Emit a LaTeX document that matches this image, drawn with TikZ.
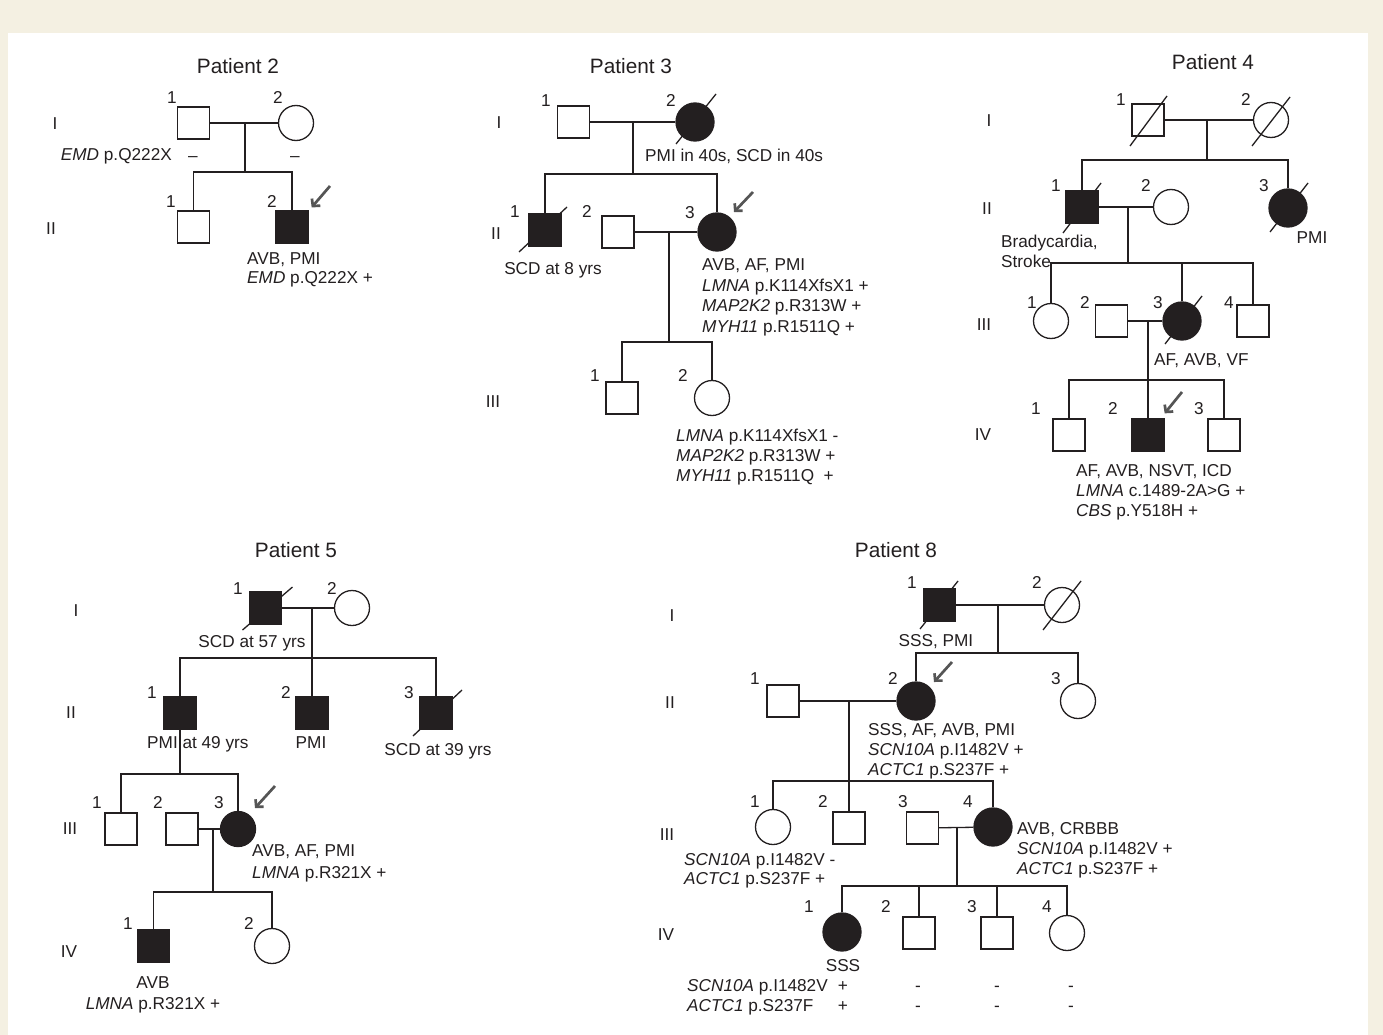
\documentclass[tikz,border=0pt]{standalone}
\usepackage{fontspec}
\setmainfont{Liberation Sans}
\usetikzlibrary{arrows.meta}
\definecolor{cream}{HTML}{F4F0E2}
\definecolor{ink}{HTML}{231F20}
\definecolor{arrgray}{HTML}{555555}
\tikzset{
  ln/.style={line width=1.3pt, draw=ink},
  male/.style={rectangle, draw=ink, line width=1.3pt, minimum size=32pt, inner sep=0pt, fill=white},
  female/.style={circle, draw=ink, line width=1.3pt, minimum size=35pt, inner sep=0pt, fill=white},
  aff/.style={fill=ink},
  bigc/.style={minimum size=38pt},
  slash/.style={line width=1.3pt, draw=ink},
  lbl/.style={inner sep=0pt, text=ink, text height=12.3pt, text depth=0pt, font=\fontsize{17.2}{20}\selectfont},
  lw/.style={lbl, anchor=west},
  ttl/.style={inner sep=0pt, text=ink, text height=15pt, text depth=0pt, font=\fontsize{20.8}{24}\selectfont},
  proband/.style={draw=arrgray, line width=2.7pt, -{Straight Barb[length=5pt,width=11pt]}}
}
\begin{document}
\begin{tikzpicture}[x=1pt,y=-1pt]
\fill[cream] (0,0) rectangle (1383,1035);
\fill[white] (8,33) rectangle (1368,1035);

% ================= Patient 2 =================
\node[ttl] (t2) at (238,66) {Patient 2};
\node[lbl] (g2a) at (55,123) {I};
\node[lbl] (g2b) at (51,228) {II};
\node[male] (p2a) at (193.5,123) {};
\node[female] (p2b) at (296,123) {};
\node[male] (p2c) at (193.5,227) {};
\node[male,aff] (p2d) at (292,227) {};
\node[lbl] (n2a) at (172,97) {1};
\node[lbl] (n2b) at (278,97) {2};
\node[lbl] (n2c) at (171,201) {1};
\node[lbl] (n2d) at (272,201) {2};
\coordinate (p2m) at (245,123);
\coordinate (p2s) at (245,172);
\draw[ln] (p2a) -- (p2b);
\draw[ln] (p2m) -- (p2s);
\draw[ln] (p2c) |- (p2s) -| (p2d);
\node[lbl, anchor=east] (x2a) at (172,154) {\textit{EMD} p.Q222X};
\node[lbl] (x2b) at (193,155) {--};
\node[lbl] (x2c) at (295,155) {--};
\node[lw] (x2d) at (247,258) {AVB, PMI};
\node[lw] (x2e) at (247,277) {\textit{EMD} p.Q222X +};
\coordinate (a2) at (330,186);
\draw[proband] (a2) -- ([shift={(3,-3)}]p2d.north east);

% ================= Patient 3 =================
\node[ttl] (t3) at (631,66) {Patient 3};
\node[lbl] (g3a) at (499,122) {I};
\node[lbl] (g3b) at (496,233) {II};
\node[lbl] (g3c) at (493,401) {III};
\node[male] (p3a) at (573.5,122) {};
\node[female,aff,bigc] (p3b) at (695,122) {};
\draw[slash] ([shift={(-19,22)}]p3b.center) -- ([shift={(21,-28)}]p3b.center);
\node[lbl] (n3a) at (546,100) {1};
\node[lbl] (n3b) at (671,100) {2};
\coordinate (p3m) at (633,122);
\coordinate (p3s) at (633,174);
\draw[ln] (p3a) -- (p3b);
\draw[ln] (p3m) -- (p3s);
\node[lw] (x3a) at (645,155) {PMI in 40s, SCD in 40s};
\node[male,aff] (p3c) at (545,230) {};
\draw[slash] ([shift={(-26,22)}]p3c.center) -- ([shift={(22,-23)}]p3c.center);
\node[male] (p3d) at (618,232) {};
\node[female,aff,bigc] (p3e) at (717,232) {};
\node[lbl] (n3c) at (515,211) {1};
\node[lbl] (n3d) at (587,211) {2};
\node[lbl] (n3e) at (690,212) {3};
\draw[ln] (p3c) |- (p3s) -| (p3e);
\coordinate (p3m2) at (669,232);
\coordinate (p3s2) at (669,342);
\draw[ln] (p3d) -- (p3e);
\draw[ln] (p3m2) -- (p3s2);
\coordinate (a3) at (753,192);
\draw[proband] (a3) -- ([shift={(17,-20)}]p3e.center);
\node[lbl] (x3b) at (553,268) {SCD at 8 yrs};
\node[lw] (x3c) at (702,264) {AVB, AF, PMI};
\node[lw] (x3d) at (702,285) {\textit{LMNA} p.K114XfsX1 +};
\node[lw] (x3e) at (702,305) {\textit{MAP2K2} p.R313W +};
\node[lw] (x3f) at (702,326) {\textit{MYH11} p.R1511Q +};
\node[male] (p3f) at (622,398) {};
\node[female] (p3g) at (712,398) {};
\node[lbl] (n3f) at (595,375) {1};
\node[lbl] (n3g) at (683,375) {2};
\draw[ln] (p3f) |- (p3s2) -| (p3g);
\node[lw] (x3g) at (676,435) {\textit{LMNA} p.K114XfsX1 -};
\node[lw] (x3h) at (676,455) {\textit{MAP2K2} p.R313W +};
\node[lw] (x3i) at (676,475) {\textit{MYH11} p.R1511Q~ +};

% ================= Patient 4 =================
\node[ttl] (t4) at (1213,62) {Patient 4};
\node[lbl] (g4a) at (989,120) {I};
\node[lbl] (g4b) at (987,208) {II};
\node[lbl] (g4c) at (984,324) {III};
\node[lbl] (g4d) at (983,434) {IV};
\node[male] (p4a) at (1148,120) {};
\draw[slash] ([shift={(-18,26)}]p4a.center) -- ([shift={(19,-24)}]p4a.center);
\node[female] (p4b) at (1271,120) {};
\draw[slash] ([shift={(-19,26)}]p4b.center) -- ([shift={(19,-23)}]p4b.center);
\node[lbl] (n4a) at (1121,99) {1};
\node[lbl] (n4b) at (1246,99) {2};
\coordinate (p4m) at (1207,120);
\coordinate (p4s) at (1207,160);
\draw[ln] (p4a) -- (p4b);
\draw[ln] (p4m) -- (p4s);
\node[male,aff] (p4c) at (1082,207) {};
\draw[slash] ([shift={(-19,26)}]p4c.center) -- ([shift={(19,-24)}]p4c.center);
\node[female] (p4d) at (1171,207) {};
\node[female,aff,bigc] (p4e) at (1288,208) {};
\draw[slash] ([shift={(-18,24)}]p4e.center) -- ([shift={(20,-25)}]p4e.center);
\node[lbl] (n4c) at (1056,185) {1};
\node[lbl] (n4d) at (1146,185) {2};
\node[lbl] (n4e) at (1264,185) {3};
\draw[ln] (p4c) |- (p4s) -| (p4e);
\node[lbl] (x4a) at (1312,237) {PMI};
\node[lw] (x4b) at (1001,241) {Bradycardia,};
\node[lw] (x4c) at (1001,261) {Stroke};
\coordinate (p4m2) at (1128,207);
\coordinate (p4s2) at (1128,263);
\draw[ln] (p4c) -- (p4d);
\draw[ln] (p4m2) -- (p4s2);
\node[female] (p4f) at (1051,321) {};
\node[male] (p4g) at (1111.5,321) {};
\node[female,aff,bigc] (p4h) at (1182,321) {};
\draw[slash] ([shift={(-17,23)}]p4h.center) -- ([shift={(20,-25)}]p4h.center);
\node[male] (p4i) at (1253,321) {};
\node[lbl] (n4f) at (1032,302) {1};
\node[lbl] (n4g) at (1085,302) {2};
\node[lbl] (n4h) at (1158,302) {3};
\node[lbl] (n4i) at (1229,302) {4};
\draw[ln] (p4f) |- (p4s2) -| (p4i);
\draw[ln] (p4h) -- (p4h |- p4s2);
\coordinate (p4m3) at (1148,321);
\coordinate (p4s3) at (1148,380);
\draw[ln] (p4g) -- (p4h);
\node[lw] (x4d) at (1154,359) {AF, AVB, VF};
\node[male] (p4j) at (1069,435) {};
\node[male,aff] (p4k) at (1148,435) {};
\node[male] (p4l) at (1224,435) {};
\draw[ln] (p4m3) -- (p4k);
\draw[ln] (p4j) |- (p4s3) -| (p4l);
\node[lbl] (n4j) at (1036,408) {1};
\node[lbl] (n4k) at (1113,408) {2};
\node[lbl] (n4l) at (1199,408) {3};
\coordinate (a4) at (1182,392);
\draw[proband] (a4) -- ([shift={(0,-5)}]p4k.north east);
\node[lw] (x4e) at (1076,470) {AF, AVB, NSVT, ICD};
\node[lw] (x4f) at (1076,490) {\textit{LMNA} c.1489-2A>G +};
\node[lw] (x4g) at (1076,510) {\textit{CBS} p.Y518H +};

% ================= Patient 5 =================
\node[ttl] (t5) at (296,550) {Patient 5};
\node[lbl] (g5a) at (76,610) {I};
\node[lbl] (g5b) at (71,712) {II};
\node[lbl] (g5c) at (70,828) {III};
\node[lbl] (g5d) at (69,951) {IV};
\node[male,aff] (p5a) at (265.5,608) {};
\draw[slash] ([shift={(-23,22)}]p5a.center) -- ([shift={(27,-21)}]p5a.center);
\node[female] (p5b) at (352,608) {};
\node[lbl] (n5a) at (238,588) {1};
\node[lbl] (n5b) at (332,588) {2};
\coordinate (p5m) at (312,608);
\coordinate (p5s) at (312,658);
\draw[ln] (p5a) -- (p5b);
\node[lbl] (x5a) at (252,641) {SCD at 57 yrs};
\node[male,aff] (p5c) at (180,713) {};
\node[male,aff] (p5d) at (312,713) {};
\node[male,aff] (p5e) at (436,713) {};
\draw[slash] ([shift={(-23,23)}]p5e.center) -- ([shift={(26,-23)}]p5e.center);
\node[lbl] (n5c) at (152,692) {1};
\node[lbl] (n5d) at (286,692) {2};
\node[lbl] (n5e) at (409,692) {3};
\draw[ln] (p5m) -- (p5d);
\draw[ln] (p5c) |- (p5s) -| (p5e);
\node[lw] (x5b) at (147,742) {PMI at 49 yrs};
\node[lbl] (x5c) at (311,742) {PMI};
\node[lbl] (x5d) at (438,749) {SCD at 39 yrs};
\coordinate (p5s2) at (180,774);
\draw[ln] (p5c) -- (p5s2);
\node[male] (p5f) at (121,829) {};
\node[male] (p5g) at (182,829) {};
\node[female,aff] (p5h) at (238,829) {};
\node[lbl] (n5f) at (97,802) {1};
\node[lbl] (n5g) at (158,802) {2};
\node[lbl] (n5h) at (219,802) {3};
\draw[ln] (p5f) |- (p5s2) -| (p5h);
\coordinate (p5m3) at (213,829);
\coordinate (p5s3) at (213,892);
\draw[ln] (p5g) -- (p5h);
\draw[ln] (p5m3) -- (p5s3);
\coordinate (a5) at (275,786);
\draw[proband] (a5) -- ([shift={(17,-21)}]p5h.center);
\node[lw] (x5e) at (252,850) {AVB, AF, PMI};
\node[lw] (x5f) at (252,872) {\textit{LMNA} p.R321X +};
\node[male,aff] (p5i) at (153.5,946) {};
\node[female] (p5j) at (272,946) {};
\node[lbl] (n5i) at (128,923) {1};
\node[lbl] (n5j) at (249,923) {2};
\draw[ln] (p5i) |- (p5s3) -| (p5j);
\node[lbl] (x5g) at (153,982) {AVB};
\node[lbl] (x5h) at (153,1003) {\textit{LMNA} p.R321X +};

% ================= Patient 8 =================
\node[ttl] (t8) at (896,550) {Patient 8};
\node[lbl] (g8a) at (672,615) {I};
\node[lbl] (g8b) at (670,702) {II};
\node[lbl] (g8c) at (667,834) {III};
\node[lbl] (g8d) at (666,934) {IV};
\node[male,aff] (p8a) at (939.5,605) {};
\draw[slash] ([shift={(-19.5,24)}]p8a.center) -- ([shift={(18.5,-24)}]p8a.center);
\node[female] (p8b) at (1062,605) {};
\draw[slash] ([shift={(-19,25)}]p8b.center) -- ([shift={(19,-24)}]p8b.center);
\node[lbl] (n8a) at (912,582) {1};
\node[lbl] (n8b) at (1037,582) {2};
\coordinate (p8m) at (998,605);
\coordinate (p8s) at (998,653);
\draw[ln] (p8a) -- (p8b);
\draw[ln] (p8m) -- (p8s);
\node[lbl] (x8a) at (936,640) {SSS, PMI};
\node[male] (p8c) at (783,701) {};
\node[female,aff,bigc] (p8d) at (916,701) {};
\node[female] (p8e) at (1078,701) {};
\node[lbl] (n8c) at (755,678) {1};
\node[lbl] (n8d) at (893,678) {2};
\node[lbl] (n8e) at (1056,678) {3};
\draw[ln] (p8d) |- (p8s) -| (p8e);
\coordinate (a8) at (952,662);
\draw[proband] (a8) -- ([shift={(18,-19)}]p8d.center);
\coordinate (p8m2) at (849,701);
\coordinate (p8s2) at (849,781);
\draw[ln] (p8c) -- (p8d);
\node[lw] (x8b) at (868,729) {SSS, AF, AVB, PMI};
\node[lw] (x8c) at (868,749) {\textit{SCN10A} p.I1482V +};
\node[lw] (x8d) at (868,769) {\textit{ACTC1} p.S237F +};
\node[female] (p8f) at (773,827) {};
\node[male] (p8g) at (849,828) {};
\node[male] (p8h) at (922.5,828) {};
\node[female,aff,bigc] (p8i) at (993,827) {};
\node[lbl] (n8f) at (755,801) {1};
\node[lbl] (n8g) at (823,801) {2};
\node[lbl] (n8h) at (903,801) {3};
\node[lbl] (n8i) at (968,801) {4};
\draw[ln] (p8m2) -- (p8g);
\draw[ln] (p8f) |- (p8s2) -| (p8i);
\coordinate (p8m3) at (957,828);
\coordinate (p8s3) at (957,886);
\draw[ln] (p8h) -- (p8i);
\draw[ln] (p8m3) -- (p8s3);
\node[lw] (x8e) at (1017,828) {AVB, CRBBB};
\node[lw] (x8f) at (1017,848) {\textit{SCN10A} p.I1482V +};
\node[lw] (x8g) at (1017,868) {\textit{ACTC1} p.S237F +};
\node[lw] (x8h) at (684,859) {\textit{SCN10A} p.I1482V -};
\node[lw] (x8i) at (684,878) {\textit{ACTC1} p.S237F +};
\node[female,aff,bigc] (p8j) at (842,932) {};
\node[male] (p8k) at (919,933) {};
\node[male] (p8l) at (997,933) {};
\node[female] (p8m4) at (1067,933) {};
\node[lbl] (n8j) at (809,906) {1};
\node[lbl] (n8k) at (886,906) {2};
\node[lbl] (n8l) at (972,906) {3};
\node[lbl] (n8m) at (1047,906) {4};
\draw[ln] (p8j) |- (p8s3) -| (p8m4);
\draw[ln] (p8k) -- (p8k |- p8s3);
\draw[ln] (p8l) -- (p8l |- p8s3);
\node[lbl] (x8j) at (843,965) {SSS};
\node[lw] (x8k) at (687,985) {\textit{SCN10A} p.I1482V};
\node[lw] (x8l) at (687,1005) {\textit{ACTC1} p.S237F};
\node[lbl] (x8m) at (843,985) {+};
\node[lbl] (x8n) at (843,1005) {+};
\node[lbl] (x8o) at (918,985) {-};
\node[lbl] (x8p) at (918,1005) {-};
\node[lbl] (x8q) at (997,985) {-};
\node[lbl] (x8r) at (997,1005) {-};
\node[lbl] (x8s) at (1071,985) {-};
\node[lbl] (x8t) at (1071,1005) {-};
\end{tikzpicture}
\end{document}
